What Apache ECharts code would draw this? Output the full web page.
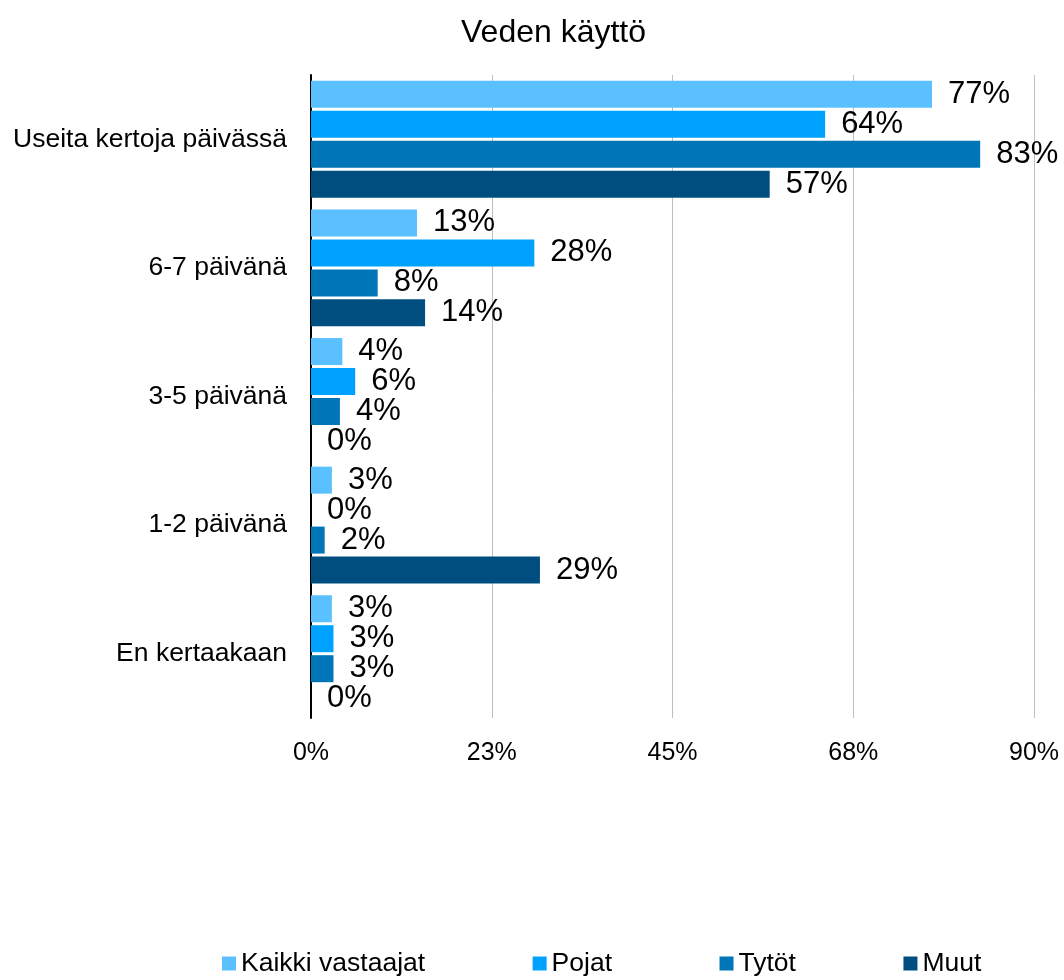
<!DOCTYPE html>
<html><head><meta charset="utf-8">
<script src="https://cdn.jsdelivr.net/npm/echarts@6/dist/echarts.min.js"></script>
<style>html,body{margin:0;padding:0;background:#fff}#c{width:1064px;height:980px}</style>
</head><body><div id="c"></div>
<script>
const categories = ['Useita kertoja päivässä', '6-7 päivänä', '3-5 päivänä', '1-2 päivänä', 'En kertaakaan'];
const seriesNames = ['Kaikki vastaajat', 'Pojat', 'Tytöt', 'Muut'];
const kaikki = [77.3, 13.2, 3.9, 2.6, 2.6];
const pojat = [64.0, 27.8, 5.5, 0, 2.8];
const tytot = [83.3, 8.3, 3.6, 1.7, 2.8];
const muut = [57.1, 14.2, 0, 28.5, 0];
const colors = ['#5BC0FF', '#00A2FF', '#0075B8', '#004E80'];
const xTicks = [0, 22.5, 45, 67.5, 90];

const chart = echarts.init(document.getElementById('c'));
const font = 'Liberation Sans, Arial, sans-serif';
const data = [kaikki, pojat, tytot, muut];
chart.setOption({
  animation: false,
  textStyle: {fontFamily: font},
  title: {text: 'Veden käyttö', left: 456, top: 12, textStyle: {fontSize: 32, fontWeight: 'normal', color: '#000', fontFamily: font}},
  grid: {left: 311, right: 30, top: 75, bottom: 262},
  legend: {top: 950, left: 222, padding: 0, itemGap: 107.5, itemWidth: 14, itemHeight: 14, icon: 'rect',
    textStyle: {fontSize: 26.5, color: '#000', fontFamily: font},
    data: seriesNames},
  xAxis: {type: 'value', min: xTicks[0], max: xTicks[xTicks.length-1], interval: xTicks[1]-xTicks[0],
    axisLine: {show: false}, axisTick: {show: false},
    axisLabel: {fontSize: 25, color: '#000', margin: 23, formatter: v => Math.round(v) + '%'},
    splitLine: {lineStyle: {color: '#BFBFBF', width: 1}}},
  yAxis: {type: 'category', data: categories, inverse: true,
    axisLine: {lineStyle: {color: '#000', width: 2}}, axisTick: {show: false},
    axisLabel: {fontSize: 26.5, color: '#000', margin: 24}},
  series: seriesNames.map((n, i) => ({
    name: n, type: 'bar', data: data[i], barWidth: 27, barGap: '11%',
    itemStyle: {color: colors[i]},
    label: {show: true, position: 'right', distance: 16, fontSize: 31, color: '#000', fontFamily: font,
      formatter: p => Math.round(p.value) + '%'}
  }))
});
</script></body></html>
